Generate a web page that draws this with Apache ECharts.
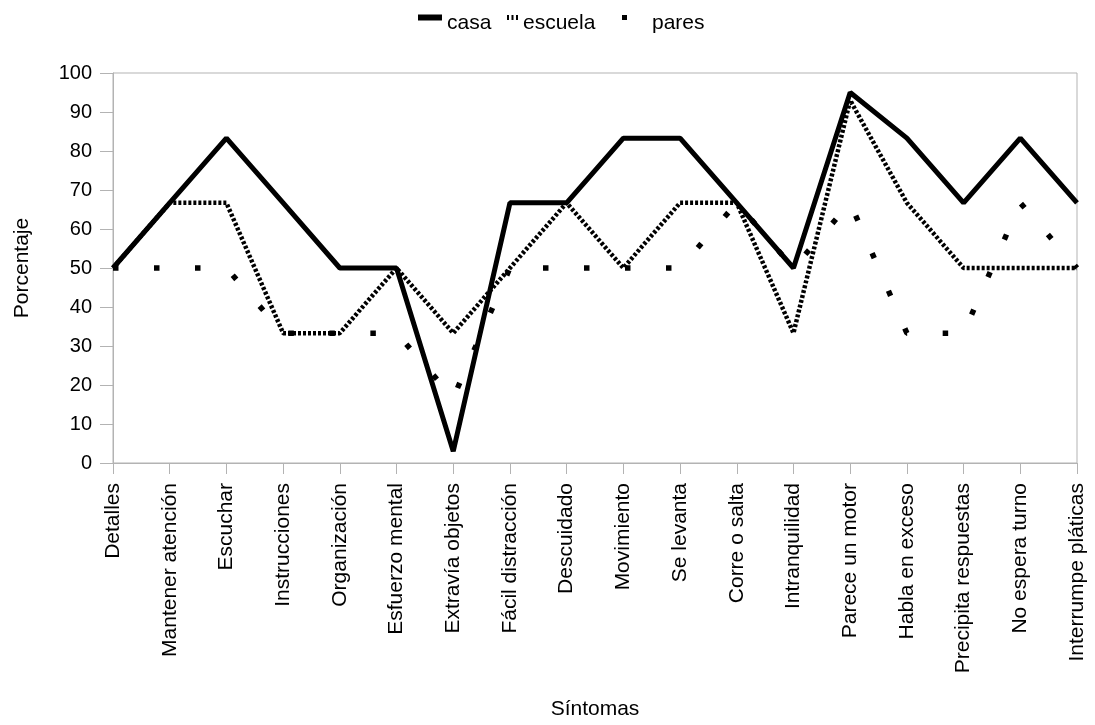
<!DOCTYPE html>
<html>
<head>
<meta charset="utf-8">
<script src="https://cdn.jsdelivr.net/npm/echarts@6/dist/echarts.min.js"></script>
<style>
html,body{margin:0;padding:0;background:#fff;}
#chart{width:1095px;height:725px;}
</style>
</head>
<body>
<div id="chart"></div>
<script>
var categories = ["Detalles","Mantener atención","Escuchar","Instrucciones","Organización","Esfuerzo mental","Extravía objetos","Fácil distracción","Descuidado","Movimiento","Se levanta","Corre o salta","Intranquilidad","Parece un motor","Habla en exceso","Precipita respuestas","No espera turno","Interrumpe pláticas"];
var casa    = [50, 66.7, 83.3, 66.7, 50, 50, 3, 66.7, 66.7, 83.3, 83.3, 66.7, 50, 95, 83.3, 66.7, 83.3, 66.7];
var escuela = [50, 66.7, 66.7, 33.3, 33.3, 50, 33.3, 50, 66.7, 50, 66.7, 66.7, 33.3, 93, 66.7, 50, 50, 50];
var pares   = [50, 50, 50, 33.3, 33.3, 33.3, 16.7, 50, 50, 50, 50, 66.7, 50, 66.7, 33.3, 33.3, 66.7, 50];
var yTicks = [0,10,20,30,40,50,60,70,80,90,100];

var FONT = 'Liberation Sans, Arial, sans-serif';
var chart = echarts.init(document.getElementById('chart'));
var legendText = {fontFamily: FONT, fontSize: 21, color: '#000'};
chart.setOption({
  animation: false,
  backgroundColor: '#fff',
  legend: [
    {data: [{name: 'casa', icon: 'path://M0,0h24v6h-24z M0,18h0.01v0.01h-0.01z'}], left: 413, top: 8, itemWidth: 24, itemHeight: 18, textStyle: legendText, selectedMode: false},
    {data: [{name: 'escuela', icon: 'path://M0,0h2v5h-2z M4.5,0h2v5h-2z M9,0h2v5h-2z M0,17h0.01v0.01h-0.01z'}], left: 502, top: 8, itemWidth: 11, itemHeight: 17, textStyle: legendText, selectedMode: false},
    {data: [{name: 'pares', icon: 'path://M0,0h5v5h-5z M0,17h0.01v0.01h-0.01z'}], left: 617, top: 8, itemWidth: 5, itemHeight: 17, textStyle: Object.assign({padding: [0,0,0,20]}, legendText), selectedMode: false}
  ],
  grid: {left: 113, right: 18, top: 73, bottom: 262, containLabel: false, outerBoundsMode: 'none',
         show: true, borderColor: '#b3b3b3', borderWidth: 1, backgroundColor: 'transparent'},
  xAxis: {
    type: 'category', data: categories, boundaryGap: false,
    name: 'Síntomas', nameLocation: 'middle', nameGap: 236,
    nameTextStyle: {fontFamily: FONT, fontSize: 21, color: '#000'},
    axisLine: {lineStyle: {color: '#b3b3b3', width: 1}},
    axisTick: {show: true, length: 11, interval: 0, lineStyle: {color: '#b3b3b3'}},
    axisLabel: {rotate: 90, interval: 0, margin: 20, fontFamily: FONT, fontSize: 21, color: '#000', hideOverlap: false},
    splitLine: {show: false}
  },
  yAxis: {
    type: 'value', min: yTicks[0], max: yTicks[yTicks.length-1], interval: 10,
    name: 'Porcentaje', nameLocation: 'middle', nameGap: 80, nameRotate: 90,
    nameTextStyle: {fontFamily: FONT, fontSize: 21, color: '#000'},
    axisLine: {show: true, lineStyle: {color: '#b3b3b3', width: 1}},
    axisTick: {show: true, length: 13, lineStyle: {color: '#b3b3b3'}},
    axisLabel: {margin: 21, fontFamily: FONT, fontSize: 20, color: '#000'},
    splitLine: {show: false}
  },
  series: [
    {name: 'casa', type: 'line', data: casa, showSymbol: false, symbol: 'none', color: '#000',
     lineStyle: {color: '#000', width: 5, type: 'solid'}, z: 3},
    {name: 'escuela', type: 'line', data: escuela, showSymbol: false, symbol: 'none', color: '#000',
     lineStyle: {color: '#000', width: 4.5, type: [3, 2], cap: 'butt'}, z: 4},
    {name: 'pares', type: 'line', data: pares, showSymbol: false, symbol: 'none', color: '#000',
     lineStyle: {color: '#000', width: 5.5, type: [5.5, 35.5], cap: 'butt'}, z: 5}
  ]
});
</script>
</body>
</html>
